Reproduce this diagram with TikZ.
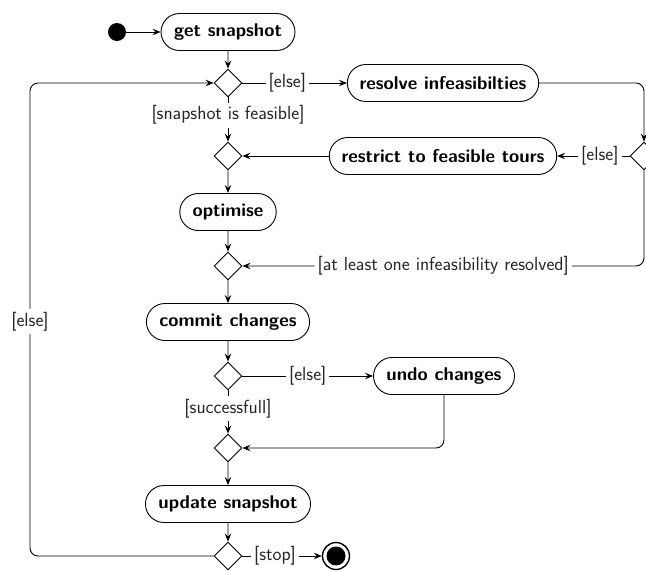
\documentclass[tikz,border=0pt]{standalone}
\usetikzlibrary{shapes.misc,shapes.geometric,arrows.meta}
\begin{document}
\begin{tikzpicture}[x=1pt,y=-1pt,
  font=\sffamily\fontsize{19}{22}\selectfont,
  >={Stealth[length=8pt,width=6.5pt,inset=3pt]},
  line width=0.9pt,
  act/.style={draw,rounded rectangle,minimum height=37pt,inner xsep=11pt,inner ysep=2pt,font=\sffamily\bfseries\fontsize{18.5}{22}\selectfont},
  dec/.style={draw,diamond,minimum width=28pt,minimum height=28pt,inner sep=0pt},
  lbl/.style={fill=white,inner sep=3pt,text=black!85},
  flow/.style={->}]
\useasboundingbox (0,0) rectangle (646,571);
\node[circle,fill=black,minimum size=18pt,inner sep=0pt] (start) at (117,32) {};
\node[act] (get) at (228,32) {get snapshot};
\node[dec] (d1) at (228,83) {};
\node[act] (res) at (443,83) {resolve infeasibilties};
\node[dec] (d2) at (644,156) {};
\node[act] (restr) at (443,156) {restrict to feasible tours};
\node[dec] (d3) at (228,156) {};
\node[act] (opt) at (228,212) {optimise};
\node[dec] (d4) at (228,266) {};
\node[act] (commit) at (228,322) {commit changes};
\node[dec] (d5) at (228,376) {};
\node[act] (undo) at (444,376) {undo changes};
\node[dec] (d6) at (228,448) {};
\node[act] (upd) at (228,504) {update snapshot};
\node[dec] (d7) at (228,556) {};
\node[circle,draw,line width=1.4pt,minimum size=27pt,inner sep=0pt] (stop) at (336,556) {};
\node[circle,fill=black,minimum size=19pt,inner sep=0pt] at (stop) {};
\coordinate (c1) at (644,83);
\coordinate (c2) at (644,266);
\coordinate (c3) at (30,556);
\coordinate (c4) at (30,83);

\draw[flow] (start) -- (get);
\draw[flow] (get) -- (d1);
\draw[flow] (d1) -- node[lbl,pos=0.43]{[else]} (res);
\draw[flow,rounded corners=8pt] (res.east) -- (c1) -- (d2.north);
\draw[flow] (d2.west) -- node[lbl,pos=0.41]{[else]} (restr.east);
\draw[flow] (restr.west) -- (d3.east);
\draw[flow] (d1.south) -- node[lbl,pos=0.4]{[snapshot is feasible]} (d3.north);
\draw[flow] (d3) -- (opt);
\draw[flow] (opt) -- (d4);
\draw[flow,rounded corners=8pt] (d2.south) -- (c2) -- node[lbl,pos=0.5]{[at least one infeasibility resolved]} (d4.east);
\draw[flow] (d4) -- (commit);
\draw[flow] (commit) -- (d5);
\draw[flow] (d5.east) -- node[lbl,pos=0.5]{[else]} (undo.west);
\draw[flow,rounded corners=8pt] (undo.south) |- (d6.east);
\draw[flow] (d5.south) -- node[lbl,pos=0.42]{[successfull]} (d6.north);
\draw[flow] (d6) -- (upd);
\draw[flow] (upd) -- (d7);
\draw[flow] (d7.east) -- node[lbl,pos=0.41]{[stop]} (stop);
\draw[flow,rounded corners=8pt] (d7.west) -- (c3) -- node[lbl,pos=0.496]{[else]} (c4) -- (d1.west);
\end{tikzpicture}
\end{document}
